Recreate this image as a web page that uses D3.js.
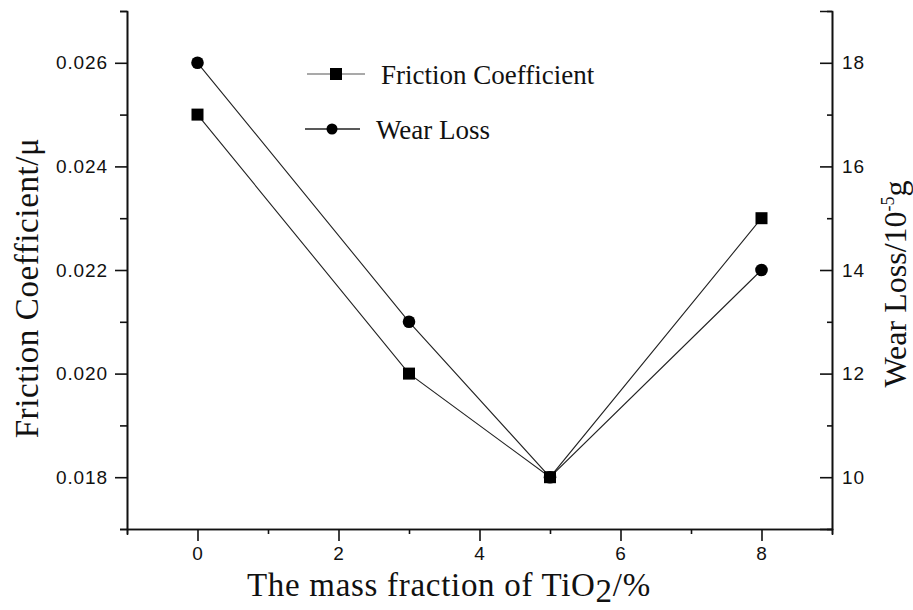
<!DOCTYPE html>
<html>
<head>
<meta charset="utf-8">
<script src="https://cdn.jsdelivr.net/npm/d3@7"></script>
<style>
  html, body { margin: 0; padding: 0; background: #fff; }
  svg { display: block; }
  .tick text { font-family: "Liberation Sans", Arial, sans-serif; font-size: 19px; letter-spacing: 0.9px; fill: #111; }
  .title { font-family: "Liberation Serif", "Times New Roman", serif; fill: #111; }
</style>
</head>
<body>
<svg id="chart" width="913" height="610"></svg>
<script>
// TiO2 mass fraction (%) and the two measured responses
const massFraction = [0, 3, 5, 8];
const frictionCoef = [0.025, 0.020, 0.018, 0.023];
const wearLoss = [18, 13, 10, 14];

const xTicks = [0, 2, 4, 6, 8];
const xMinorTicks = [-1, 1, 3, 5, 7, 9];
const leftTicks = [0.018, 0.020, 0.022, 0.024, 0.026];
const leftMinorTicks = [0.017, 0.019, 0.021, 0.023, 0.025, 0.027];
const rightTicks = [10, 12, 14, 16, 18];
const rightMinorTicks = [9, 11, 13, 15, 17, 19];

const plot = { left: 127, right: 832, top: 11, bottom: 529 };
const svg = d3.select("#chart");

const x = d3.scaleLinear().domain([-1, 9]).range([plot.left, plot.right]);
const yL = d3.scaleLinear().domain([0.017, 0.027]).range([plot.bottom, plot.top]);
const yR = d3.scaleLinear().domain([9, 19]).range([plot.bottom, plot.top]);

function styleAxis(g) {
  g.selectAll("path.domain").attr("stroke", "#111").attr("stroke-width", 1.6);
  g.selectAll(".tick line").attr("stroke", "#111").attr("stroke-width", 1.6);
}

// bottom axis
svg.append("g").attr("transform", `translate(0,${plot.bottom})`)
  .call(d3.axisBottom(x).tickValues(xMinorTicks).tickSize(5).tickSizeOuter(0).tickFormat(""))
  .call(styleAxis);
svg.append("g").attr("transform", `translate(0,${plot.bottom})`)
  .call(d3.axisBottom(x).tickValues(xTicks).tickSize(12).tickSizeOuter(6).tickPadding(6).tickFormat(d3.format("d")))
  .call(styleAxis);

// left axis
svg.append("g").attr("transform", `translate(${plot.left},0)`)
  .call(d3.axisLeft(yL).tickValues(leftMinorTicks).tickSize(7).tickSizeOuter(0).tickFormat(""))
  .call(styleAxis);
svg.append("g").attr("transform", `translate(${plot.left},0)`)
  .call(d3.axisLeft(yL).tickValues(leftTicks).tickSize(12).tickSizeOuter(7).tickPadding(7).tickFormat(d3.format(".3f")))
  .call(styleAxis);

// right axis: ticks point inward, labels outside
svg.append("g").attr("transform", `translate(${plot.right},0)`)
  .call(d3.axisRight(yR).tickValues(rightMinorTicks).tickSize(-5).tickSizeOuter(0).tickFormat(""))
  .call(styleAxis);
svg.append("g").attr("transform", `translate(${plot.right},0)`)
  .call(d3.axisRight(yR).tickValues(rightTicks).tickSize(-12).tickSizeOuter(-12).tickPadding(10).tickFormat(d3.format("d")))
  .call(styleAxis);

// series
const friction = massFraction.map((m, i) => ({ x: m, y: frictionCoef[i] }));
const wear = massFraction.map((m, i) => ({ x: m, y: wearLoss[i] }));

svg.append("path").datum(friction)
  .attr("fill", "none").attr("stroke", "#222").attr("stroke-width", 1.1)
  .attr("d", d3.line().x(d => x(d.x)).y(d => yL(d.y)));
svg.append("path").datum(wear)
  .attr("fill", "none").attr("stroke", "#222").attr("stroke-width", 1.1)
  .attr("d", d3.line().x(d => x(d.x)).y(d => yR(d.y)));

svg.selectAll("rect.fc").data(friction).join("rect").attr("class", "fc")
  .attr("x", d => x(d.x) - 6).attr("y", d => yL(d.y) - 6)
  .attr("width", 12).attr("height", 12).attr("fill", "#000");
svg.selectAll("circle.wl").data(wear).join("circle").attr("class", "wl")
  .attr("cx", d => x(d.x)).attr("cy", d => yR(d.y)).attr("r", 6.3).attr("fill", "#000");

// legend
const legend = svg.append("g");
legend.append("line").attr("x1", 307).attr("x2", 365).attr("y1", 74).attr("y2", 74)
  .attr("stroke", "#555").attr("stroke-width", 1.1);
legend.append("rect").attr("x", 330).attr("y", 68).attr("width", 12).attr("height", 12).attr("fill", "#000");
legend.append("text").attr("class", "title").attr("x", 381).attr("y", 84)
  .attr("font-size", 27).text("Friction Coefficient");

legend.append("line").attr("x1", 305).attr("x2", 360).attr("y1", 129).attr("y2", 129)
  .attr("stroke", "#222").attr("stroke-width", 1.3);
legend.append("circle").attr("cx", 332).attr("cy", 129).attr("r", 5.5).attr("fill", "#000");
legend.append("text").attr("class", "title").attr("x", 376).attr("y", 139)
  .attr("font-size", 27).text("Wear Loss");

// axis titles
const xt = svg.append("text").attr("class", "title").attr("x", 247).attr("y", 596)
  .attr("font-size", 33).attr("letter-spacing", 0.7);
xt.append("tspan").text("The mass fraction of TiO");
xt.append("tspan").attr("dy", 6).text("2");
xt.append("tspan").attr("dy", -6).text("/%");

svg.append("text").attr("class", "title")
  .attr("transform", "translate(38,288) rotate(-90)")
  .attr("text-anchor", "middle").attr("font-size", 33).attr("letter-spacing", 0.6)
  .text("Friction Coefficient/\u03bc");

const rt = svg.append("text").attr("class", "title")
  .attr("transform", "translate(906,284) rotate(-90)")
  .attr("text-anchor", "middle").attr("font-size", 32);
rt.append("tspan").text("Wear Loss/10");
rt.append("tspan").attr("dy", -12).attr("font-size", 18).text("-5");
rt.append("tspan").attr("dy", 12).text("g");
</script>
</body>
</html>
